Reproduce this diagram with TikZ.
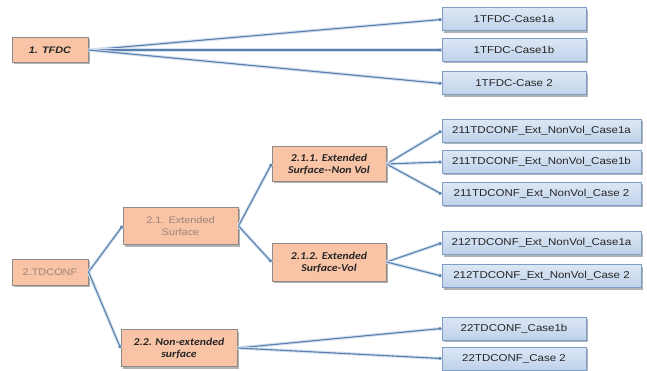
\documentclass[tikz,border=0pt]{standalone}
\usepackage{fontspec}
\setmainfont{Liberation Sans}
\newfontfamily\arialx[FakeStretch=1.15]{Liberation Sans}
\newfontfamily\calx[FakeStretch=1.12]{Carlito}
\usetikzlibrary{shadows,arrows.meta}
\definecolor{peach}{HTML}{F9C3A5}
\definecolor{peachedge}{HTML}{8E8A88}
\definecolor{bluetop}{HTML}{DCE7F5}
\definecolor{bluebot}{HTML}{BFD2EA}
\definecolor{blueedge}{HTML}{7D9CC6}
\definecolor{linkc}{HTML}{5A80AC}
\definecolor{glowc}{HTML}{D3E1F1}
\definecolor{fadetext}{HTML}{9C8579}
\tikzset{
  shad/.style={drop shadow={shadow xshift=1.6pt, shadow yshift=-2pt, opacity=0.3, fill=black}},
  obox/.style={draw=peachedge, line width=1pt, fill=peach, inner sep=0pt, align=center, shad},
  bbox/.style={draw=blueedge, line width=1pt, top color=bluetop, bottom color=bluebot,
     inner sep=0pt, minimum height=23pt, text=black!85, shad,
     font=\arialx\fontsize{10}{12}\selectfont},
  shortb/.style={bbox, minimum width=144pt},
  longb/.style={bbox, minimum width=199pt},
  boldo/.style={obox, text=black!85, font=\calx\bfseries\itshape\fontsize{10.5}{12}\selectfont},
  fadeo/.style={obox, text=fadetext, font=\arialx\fontsize{9.5}{12}\selectfont},
  lnk/.style={draw=linkc, line width=1.1pt, -{Circle[length=3pt]},
     preaction={draw=glowc, line width=3.2pt, -}}
}
\begin{document}
\begin{tikzpicture}[x=1pt,y=-1pt]
\useasboundingbox (0,0) rectangle (647,371);
% level 0
\node[obox, text=black!85, font=\arialx\bfseries\itshape\fontsize{9.5}{12}\selectfont,
      minimum width=76pt, minimum height=25pt] (t1) at (50,50) {1. TFDC};
\node[fadeo, minimum width=76pt, minimum height=26pt] (t2) at (50,272) {2.TDCONF};
% level 1
\node[fadeo, minimum width=115pt, minimum height=37pt] (e21) at (180.5,226) {2.1. Extended\\Surface};
\node[boldo, minimum width=116pt, minimum height=37pt] (e22) at (179,348) {2.2. Non-extended\\surface};
% level 2
\node[boldo, minimum width=114pt, minimum height=35pt] (e211) at (329,164) {2.1.1. Extended\\Surface-{}-Non Vol};
\node[boldo, minimum width=114pt, minimum height=38pt] (e212) at (329,262) {2.1.2. Extended\\Surface-Vol};
% leaves
\node[shortb] (a1) at (514,19.5) {1TFDC-Case1a};
\node[shortb] (a2) at (514,50) {1TFDC-Case1b};
\node[shortb] (a3) at (514,83.5) {1TFDC-Case 2};
\node[longb] (b1) at (541.5,131) {211TDCONF\_Ext\_NonVol\_Case1a};
\node[longb] (b2) at (541.5,162) {211TDCONF\_Ext\_NonVol\_Case1b};
\node[longb] (b3) at (541.5,194) {211TDCONF\_Ext\_NonVol\_Case 2};
\node[longb] (c1) at (541.5,243) {212TDCONF\_Ext\_NonVol\_Case1a};
\node[longb] (c2) at (541.5,276) {212TDCONF\_Ext\_NonVol\_Case 2};
\node[shortb] (d1) at (514,328.5) {22TDCONF\_Case1b};
\node[shortb] (d2) at (514,358.5) {22TDCONF\_Case 2};
% connectors
\foreach \c in {a1,a2,a3} \draw[lnk] (t1.east) -- (\c.west);
\draw[lnk] (t2.east) -- (e21.west);
\draw[lnk] (t2.east) -- (e22.west);
\draw[lnk] (e21.east) -- (e211.west);
\draw[lnk] (e21.east) -- (e212.west);
\foreach \c in {b1,b2,b3} \draw[lnk] (e211.east) -- (\c.west);
\foreach \c in {c1,c2} \draw[lnk] (e212.east) -- (\c.west);
\foreach \c in {d1,d2} \draw[lnk] (e22.east) -- (\c.west);
\end{tikzpicture}
\end{document}
